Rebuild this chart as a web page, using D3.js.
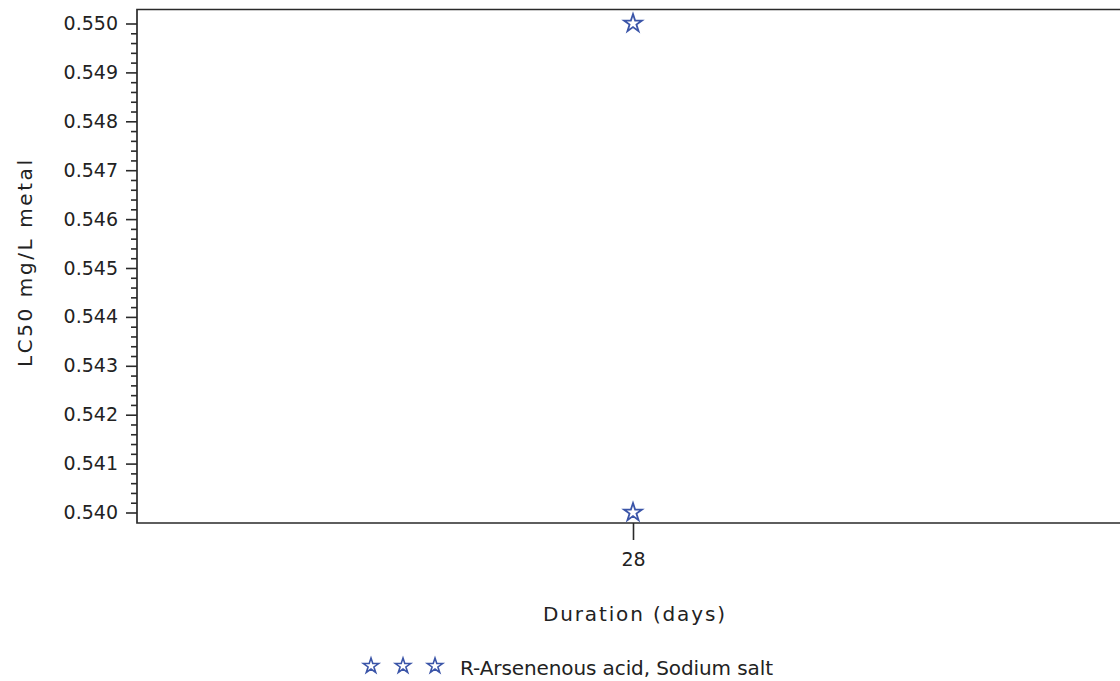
<!DOCTYPE html>
<html>
<head>
<meta charset="utf-8">
<script src="https://cdn.jsdelivr.net/npm/d3@7"></script>
<style>
  html, body { margin: 0; padding: 0; background: #fff; overflow: hidden; }
  svg { display: block; }
  text { font-family: "DejaVu Sans", sans-serif; fill: #222; }
</style>
</head>
<body>
<svg id="chart" width="1120" height="681"></svg>
<script>
// LC50 observations by test duration
const durations = ["28", "28"];
const lc50Values = [0.550, 0.540];
const durationCategories = ["28"];
const yTickValues = [0.540, 0.541, 0.542, 0.543, 0.544, 0.545, 0.546, 0.547, 0.548, 0.549, 0.550];
const seriesName = "R-Arsenenous acid, Sodium salt";
const xTitle = "Duration (days)";
const yTitle = "LC50 mg/L metal";

const svg = d3.select("#chart");
const plot = { left: 137, top: 9.5, right: 1129, bottom: 523 };
const markColor = "#3b55a8";
const axisColor = "#2a2a2a";

const x = d3.scalePoint()
  .domain(durationCategories)
  .range([plot.left, plot.right])
  .padding(0.5);

const y = d3.scaleLinear()
  .domain([0.540, 0.550])
  .range([512.5, 23.5]);

// frame (right side runs past the viewport)
svg.append("path")
  .attr("d", `M${plot.right},${plot.top}H${plot.left}V${plot.bottom}H${plot.right}`)
  .attr("fill", "none")
  .attr("stroke", axisColor)
  .attr("stroke-width", 1.7);

// y axis: major ticks with labels
const yAxis = d3.axisLeft(y)
  .tickValues(yTickValues)
  .tickFormat(d3.format(".3f"))
  .tickSize(11)
  .tickPadding(8);
const gy = svg.append("g")
  .attr("transform", `translate(${plot.left},0)`)
  .call(yAxis);
gy.select(".domain").remove();
gy.selectAll(".tick line").attr("stroke", axisColor).attr("stroke-width", 1.6);
gy.selectAll(".tick text")
  .style("font-size", "19px")
  .attr("fill", "#222");

// y axis: minor ticks, four between majors
const minorTicks = [];
for (let i = 0; i < yTickValues.length - 1; i++) {
  const a = yTickValues[i], b = yTickValues[i + 1];
  for (let k = 1; k < 5; k++) minorTicks.push(a + (b - a) * k / 5);
}
const gyMinor = svg.append("g")
  .attr("transform", `translate(${plot.left},0)`)
  .call(d3.axisLeft(y).tickValues(minorTicks).tickSize(6).tickFormat(""));
gyMinor.select(".domain").remove();
gyMinor.selectAll(".tick line").attr("stroke", axisColor).attr("stroke-width", 1.6);

// x axis
const xAxis = d3.axisBottom(x).tickSize(17).tickPadding(13);
const gx = svg.append("g")
  .attr("transform", `translate(0,${plot.bottom})`)
  .call(xAxis);
gx.select(".domain").remove();
gx.selectAll(".tick line").attr("stroke", axisColor).attr("stroke-width", 1.6);
gx.selectAll(".tick text")
  .style("font-size", "19px")
  .attr("fill", "#222");

// axis titles
svg.append("text")
  .attr("x", 543)
  .attr("y", 621)
  .attr("textLength", 182)
  .attr("lengthAdjust", "spacing")
  .style("font-size", "20px")
  .text(xTitle);

svg.append("text")
  .attr("transform", "translate(32,367) rotate(-90)")
  .attr("x", 0)
  .attr("y", 0)
  .attr("textLength", 207)
  .attr("lengthAdjust", "spacing")
  .style("font-size", "20px")
  .text(yTitle);

// star markers
const star = d3.symbol().type(d3.symbolStar).size(100);
svg.append("g")
  .selectAll("path")
  .data(lc50Values)
  .join("path")
  .attr("d", star)
  .attr("transform", (d, i) => `translate(${x(durations[i])},${y(d)})`)
  .attr("fill", "none")
  .attr("stroke", markColor)
  .attr("stroke-width", 1.8);

// legend
const legendStar = d3.symbol().type(d3.symbolStar).size(72);
const legend = svg.append("g");
legend.selectAll("path")
  .data([371, 403, 435])
  .join("path")
  .attr("d", legendStar)
  .attr("transform", d => `translate(${d},666)`)
  .attr("fill", "none")
  .attr("stroke", markColor)
  .attr("stroke-width", 1.6);
legend.append("text")
  .attr("x", 460)
  .attr("y", 675)
  .attr("textLength", 313)
  .attr("lengthAdjust", "spacing")
  .style("font-size", "20px")
  .text(seriesName);
</script>
</body>
</html>
